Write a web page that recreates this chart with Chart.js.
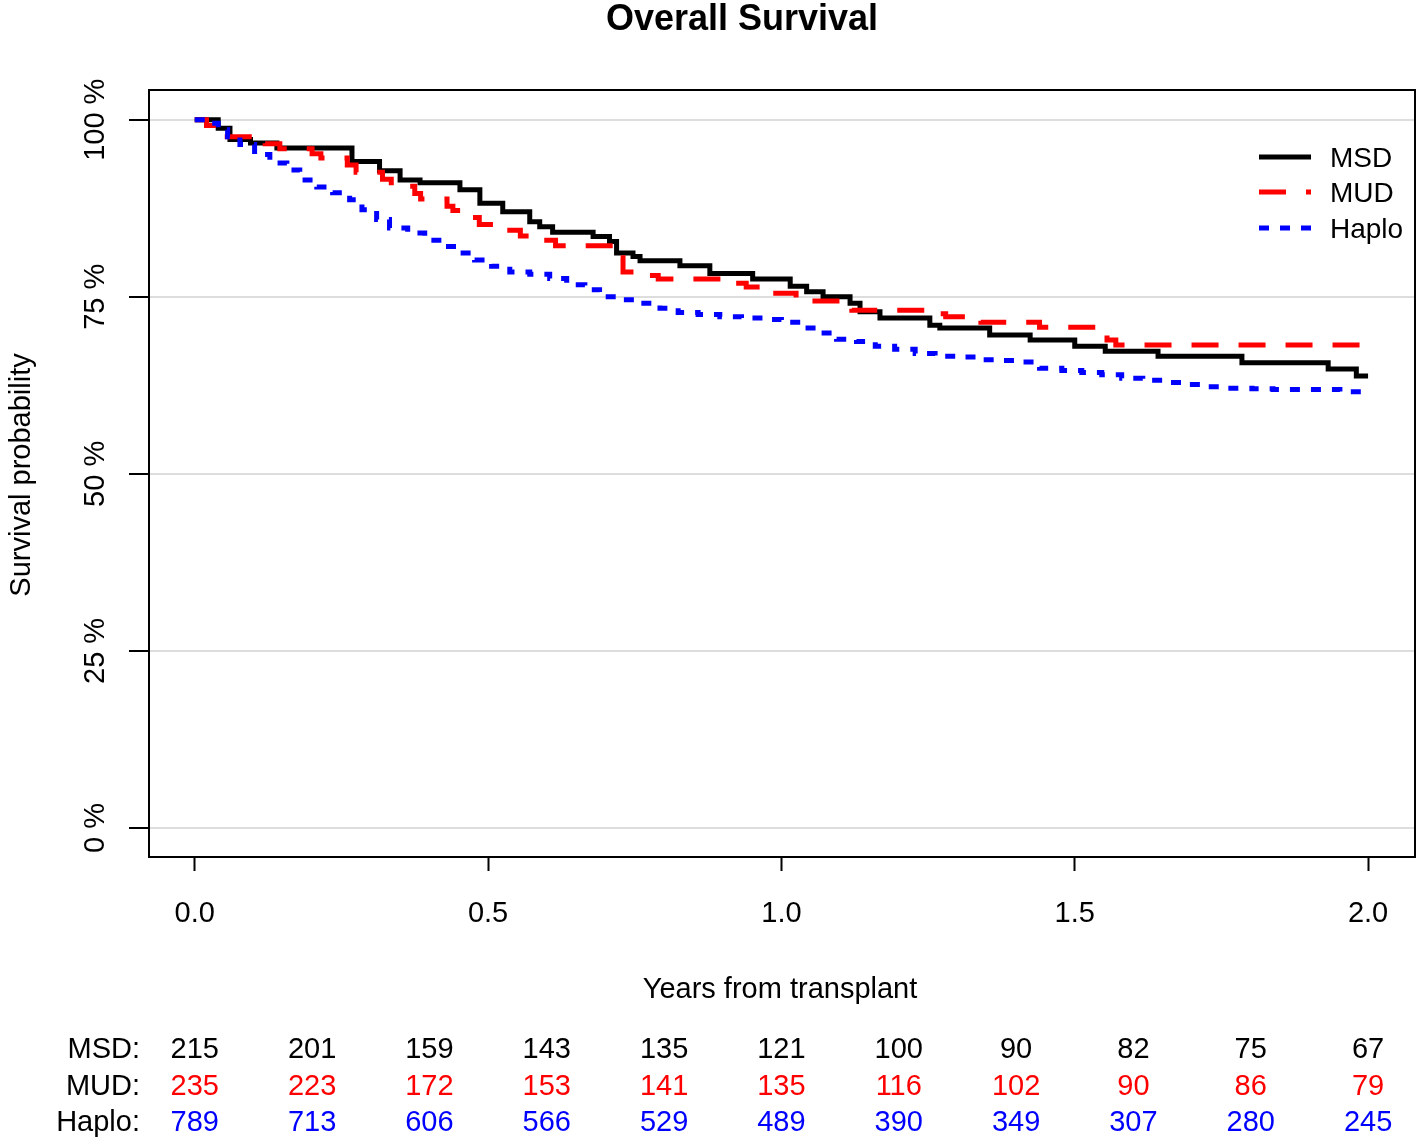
<!DOCTYPE html>
<html>
<head>
<meta charset="utf-8">
<title>Overall Survival</title>
<script src="https://cdn.jsdelivr.net/npm/chart.js@4"></script>
<style>
  html, body { margin: 0; padding: 0; background: #fff; }
  #chartBox { width: 1418px; height: 1146px; }
</style>
</head>
<body>
<div id="chartBox"><canvas id="osChart" width="1418" height="1146"></canvas></div>
<script>
  // data (years, survival %)
  const msdTimes = [0, 0.04, 0.06, 0.095, 0.14, 0.268, 0.315, 0.35, 0.384, 0.452, 0.486, 0.525, 0.571, 0.588, 0.61,
    0.679, 0.707, 0.719, 0.747, 0.759, 0.827, 0.878, 0.951, 1.015, 1.043, 1.071, 1.117, 1.134, 1.168, 1.253, 1.27,
    1.355, 1.424, 1.5, 1.552, 1.642, 1.785, 1.932, 1.98, 2.0];
  const msdSurv = [100, 98.8, 97.2, 96.7, 96.0, 94.1, 92.8, 91.5, 91.1, 90.1, 88.2, 87.0, 85.6, 84.9, 84.1,
    83.5, 82.8, 81.2, 80.7, 80.1, 79.4, 78.3, 77.5, 76.5, 75.7, 75.0, 74.1, 72.9, 72.0, 71.0, 70.6,
    69.6, 68.9, 68.0, 67.3, 66.6, 65.7, 64.8, 63.8, 63.8];

  const mudTimes = [0, 0.02, 0.04, 0.12, 0.145, 0.2, 0.215, 0.26, 0.275, 0.32, 0.335, 0.375, 0.385, 0.43, 0.44,
    0.47, 0.485, 0.525, 0.555, 0.6, 0.615, 0.715, 0.73, 0.765, 0.79, 0.92, 0.94, 0.965, 1.025, 1.12, 1.25, 1.28,
    1.34, 1.44, 1.535, 1.555, 1.57, 2.0];
  const mudSurv = [100, 99.2, 97.6, 96.6, 95.9, 95.2, 94.6, 93.6, 92.6, 91.6, 90.6, 89.6, 88.8, 87.8, 87.2,
    86.2, 85.2, 84.4, 83.6, 83.0, 82.2, 80.5, 78.5, 78.0, 77.5, 76.9, 76.4, 75.5, 74.4, 73.1, 72.6, 72.2,
    71.4, 70.7, 69.6, 68.9, 68.2, 68.2];

  const haploTimes = [0, 0.02, 0.04, 0.056, 0.077, 0.102, 0.128, 0.157, 0.179, 0.208, 0.235, 0.264, 0.285, 0.31,
    0.332, 0.363, 0.392, 0.423, 0.448, 0.477, 0.506, 0.537, 0.571, 0.605, 0.634, 0.665, 0.69, 0.725, 0.759, 0.793,
    0.824, 0.858, 0.895, 0.932, 0.968, 1.0, 1.035, 1.062, 1.094, 1.128, 1.16, 1.193, 1.228, 1.262, 1.3, 1.335,
    1.376, 1.412, 1.44, 1.478, 1.512, 1.546, 1.58, 1.616, 1.654, 1.688, 1.725, 1.761, 1.802, 1.838, 1.952, 1.99, 2.0];
  const haploSurv = [100, 99.5, 98.6, 97.6, 96.5, 95.1, 93.9, 92.9, 91.5, 90.5, 89.7, 88.7, 87.3, 85.9,
    84.7, 84.0, 83.0, 82.1, 81.2, 80.2, 79.3, 78.5, 78.2, 77.6, 76.7, 76.0, 75.0, 74.6, 74.1, 73.4,
    72.8, 72.5, 72.2, 72.0, 71.8, 71.4, 70.6, 69.9, 69.0, 68.7, 68.0, 67.6, 67.0, 66.6, 66.5, 66.1,
    66.0, 65.8, 64.9, 64.6, 64.3, 64.0, 63.5, 63.2, 62.9, 62.6, 62.3, 62.1, 62.0, 61.9, 61.6, 61.4, 61.4];

  // numbers at risk
  const riskTimes = [0, 0.2, 0.4, 0.6, 0.8, 1.0, 1.2, 1.4, 1.6, 1.8, 2.0];
  const riskMSD = [215, 201, 159, 143, 135, 121, 100, 90, 82, 75, 67];
  const riskMUD = [235, 223, 172, 153, 141, 135, 116, 102, 90, 86, 79];
  const riskHaplo = [789, 713, 606, 566, 529, 489, 390, 349, 307, 280, 245];

  const xTicks = [0, 0.5, 1.0, 1.5, 2.0];
  const yTicks = [0, 25, 50, 75, 100];

  const FONT = "'Liberation Sans', Arial, sans-serif";
  const toPoints = (t, s) => t.map((x, i) => ({ x: x, y: s[i] }));

  const data = {
    datasets: [
      {
        label: 'MSD',
        data: toPoints(msdTimes, msdSurv),
        borderColor: '#000000',
        borderWidth: 5,
        borderDash: [],
        order: 3
      },
      {
        label: 'MUD',
        data: toPoints(mudTimes, mudSurv),
        borderColor: '#ff0000',
        borderWidth: 5,
        borderDash: [27, 20],
        order: 2
      },
      {
        label: 'Haplo',
        data: toPoints(haploTimes, haploSurv),
        borderColor: '#0000ff',
        borderWidth: 5,
        borderDash: [10, 11],
        order: 1
      }
    ]
  };

  // box, legend, titles, risk table
  const survivalDecor = {
    id: 'survivalDecor',
    afterDraw(chart) {
      const { ctx, chartArea: { top, bottom, left, right }, scales: { x, y } } = chart;
      ctx.save();

      // plot box
      ctx.strokeStyle = '#000';
      ctx.lineWidth = 2;
      ctx.setLineDash([]);
      ctx.strokeRect(left, top, right - left, bottom - top);

      // y tick labels (rotated like R)
      ctx.fillStyle = '#000';
      ctx.font = '29px ' + FONT;
      ctx.textAlign = 'center';
      ctx.textBaseline = 'middle';
      y.ticks.forEach(t => {
        ctx.save();
        ctx.translate(96, y.getPixelForValue(t.value));
        ctx.rotate(-Math.PI / 2);
        ctx.fillText(t.value + ' %', 0, 0);
        ctx.restore();
      });

      // title
      ctx.font = 'bold 36px ' + FONT;
      ctx.fillText('Overall Survival', 742, 20);

      // axis titles
      ctx.font = '29px ' + FONT;
      ctx.fillText('Years from transplant', 780, 990);
      ctx.save();
      ctx.translate(22, 475);
      ctx.rotate(-Math.PI / 2);
      ctx.fillText('Survival probability', 0, 0);
      ctx.restore();

      // legend
      ctx.font = '28px ' + FONT;
      ctx.textAlign = 'left';
      const legendY = [158, 193, 229];
      chart.data.datasets.forEach((ds, i) => {
        ctx.beginPath();
        ctx.strokeStyle = ds.borderColor;
        ctx.lineWidth = 5;
        ctx.setLineDash(ds.borderDash);
        ctx.moveTo(1259, legendY[i] - 1);
        ctx.lineTo(1311, legendY[i] - 1);
        ctx.stroke();
        ctx.setLineDash([]);
        ctx.fillStyle = '#000';
        ctx.fillText(ds.label, 1330, legendY[i] + 1);
      });

      // numbers at risk
      const rows = [
        { name: 'MSD:', vals: riskMSD, color: '#000000', y: 1050 },
        { name: 'MUD:', vals: riskMUD, color: '#ff0000', y: 1087 },
        { name: 'Haplo:', vals: riskHaplo, color: '#0000ff', y: 1123 }
      ];
      ctx.font = '29px ' + FONT;
      rows.forEach(r => {
        ctx.fillStyle = '#000';
        ctx.textAlign = 'right';
        ctx.fillText(r.name, 140, r.y);
        ctx.fillStyle = r.color;
        ctx.textAlign = 'center';
        r.vals.forEach((v, i) => ctx.fillText(String(v), x.getPixelForValue(riskTimes[i]), r.y));
      });

      ctx.restore();
    }
  };

  // config
  const config = {
    type: 'scatter',
    data,
    options: {
      responsive: false,
      animation: false,
      devicePixelRatio: 1,
      layout: { padding: { left: 0, top: 90, right: 3, bottom: 0 } },
      elements: {
        line: { stepped: 'before', fill: false, borderCapStyle: 'butt', tension: 0 },
        point: { radius: 0, hoverRadius: 0 }
      },
      datasets: { scatter: { showLine: true } },
      scales: {
        x: {
          type: 'linear',
          min: -0.078,
          max: 2.08,
          afterFit: s => { s.height = 289; },
          afterBuildTicks: s => { s.ticks = xTicks.map(v => ({ value: v })); },
          border: { display: false },
          grid: { drawOnChartArea: false, drawTicks: true, tickLength: 14, tickColor: '#000', tickWidth: 2 },
          ticks: {
            color: '#000',
            padding: 26,
            font: { size: 29, family: FONT },
            callback: v => Number(v).toFixed(1)
          }
        },
        y: {
          type: 'linear',
          min: -4.1,
          max: 104.2,
          afterFit: s => { s.width = 149; },
          afterBuildTicks: s => { s.ticks = yTicks.map(v => ({ value: v })); },
          border: { display: false },
          grid: { color: '#dddddd', lineWidth: 2, drawTicks: true, tickLength: 20, tickColor: '#000', tickWidth: 2 },
          ticks: { display: false }
        }
      },
      plugins: {
        legend: { display: false },
        title: { display: false },
        tooltip: { enabled: false }
      }
    },
    plugins: [survivalDecor]
  };

  // render init block
  const osChart = new Chart(
    document.getElementById('osChart'),
    config
  );
</script>
</body>
</html>
